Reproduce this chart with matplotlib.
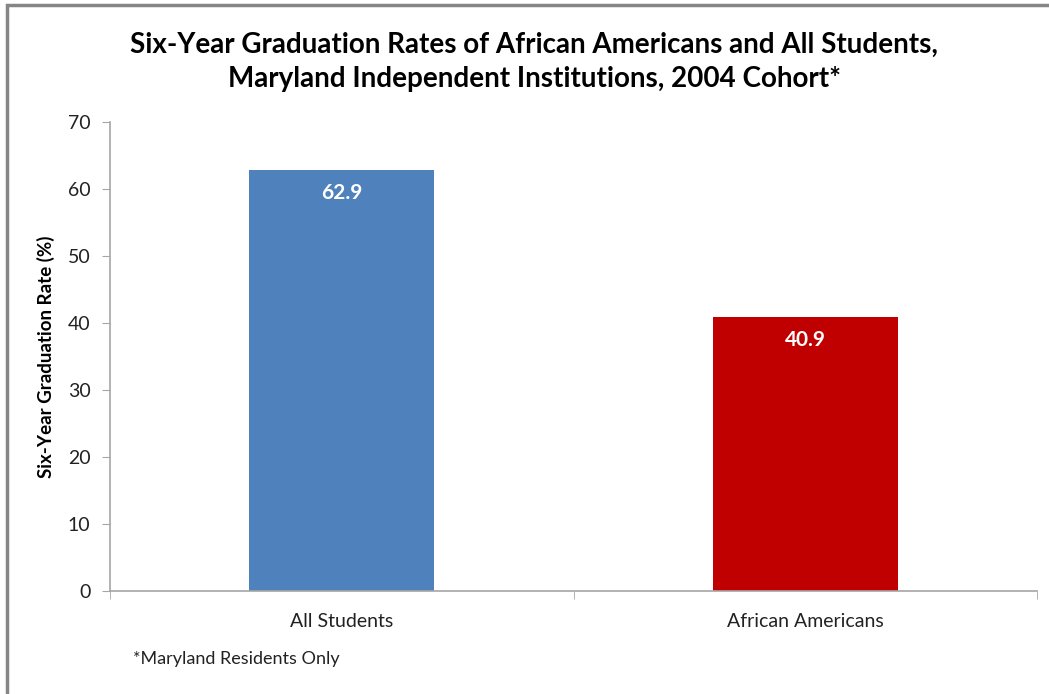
import matplotlib.pyplot as plt
from matplotlib.patches import Rectangle

plt.rcParams['font.family'] = ['Lato', 'DejaVu Sans']

# Datos
categorias = ['All Students', 'African Americans']
tasas = [62.9, 40.9]
colores = ['#4F81BD', '#C00000']
yticks = [0, 10, 20, 30, 40, 50, 60, 70]

fig = plt.figure(figsize=(10.49, 6.94), dpi=100)
ax = fig.add_axes([110 / 1049, 1 - 591 / 694, 927 / 1049, 469 / 694])

x = list(range(len(categorias)))
barras = ax.bar(x, tasas, width=0.40, color=colores, zorder=2)

# Etiquetas dentro de las barras
for xi, v in zip(x, tasas):
    ax.annotate(f'{v:.1f}', (xi, v), xytext=(0, -23), textcoords='offset pixels',
                ha='center', va='center', color='white', fontsize=15,
                fontweight='bold')

ax.set_xlim(-0.5, 1.5)
ax.set_ylim(0, 70)
ax.set_yticks(yticks)
ax.set_xticks(x)
ax.set_xticklabels(categorias)
ax.set_xticks([-0.5, 0.5, 1.5], minor=True)
ax.tick_params(axis='x', which='major', length=0, pad=16, labelsize=14,
               labelcolor='#222222')
ax.tick_params(axis='x', which='minor', length=6, color='#A6A6A6', direction='out')
ax.tick_params(axis='y', length=6, color='#A6A6A6', labelsize=14,
               labelcolor='#222222', pad=8)

for lado in ['top', 'right']:
    ax.spines[lado].set_visible(False)
for lado in ['left', 'bottom']:
    ax.spines[lado].set_color('#A6A6A6')
    ax.spines[lado].set_linewidth(1.2)

ax.set_ylabel('Six-Year Graduation Rate (%)', fontsize=13.5, fontweight='bold',
              labelpad=9)

fig.text(534 / 1049, 1 - 62 / 694,
         'Six-Year Graduation Rates of African Americans and All Students,\n'
         'Maryland Independent Institutions, 2004 Cohort*',
         ha='center', va='center', fontsize=20, fontweight='bold',
         linespacing=1.35)

fig.text(133 / 1049, 1 - 659 / 694, '*Maryland Residents Only', ha='left',
         va='center', fontsize=13, color='#222222')

# Marco del gráfico
fig.patches.append(Rectangle((7 / 1049, -0.1), 1.2, 1 - 5 / 694 + 0.1,
                             transform=fig.transFigure, fill=False,
                             edgecolor='#868686', linewidth=2.5))

fig.savefig('out.png', dpi=100)
